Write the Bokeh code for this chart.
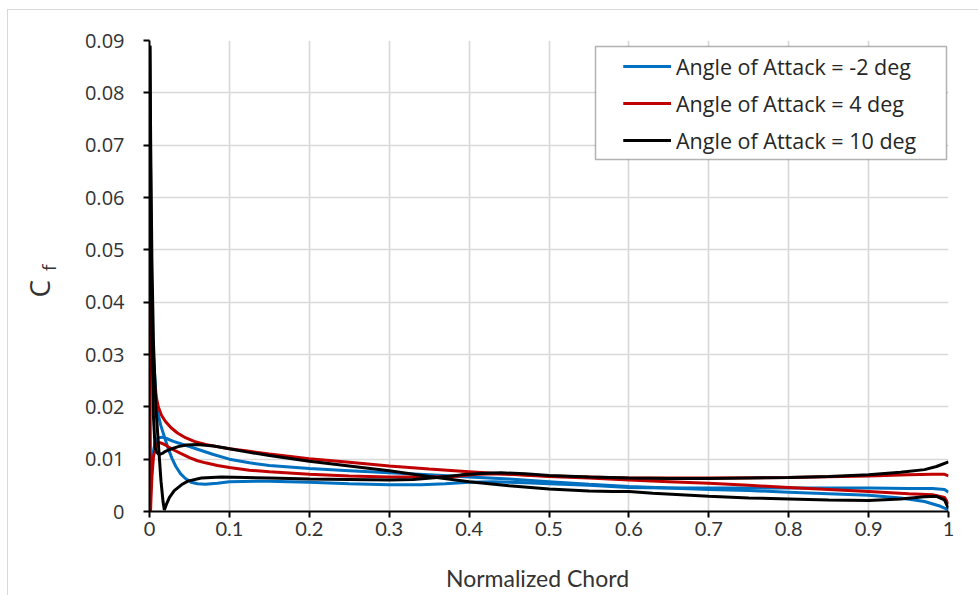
from bokeh.plotting import figure
from bokeh.layouts import row, column
from bokeh.models import Range1d, FixedTicker, Legend, LegendItem, Label, BoxAnnotation
from bokeh.embed import file_html
from bokeh.resources import INLINE

# Skin-friction coefficient along the normalized chord, two surfaces per angle of attack
series_labels = ["Angle of Attack = -2 deg", "Angle of Attack = 4 deg", "Angle of Attack = 10 deg"]
series_colors = ["#0070C0", "#C00000", "#000000"]

# -2 deg, surface A
x_m2_a = [0.0008, 0.002, 0.004, 0.007, 0.011, 0.016, 0.022, 0.03, 0.04, 0.05, 0.06, 0.08, 0.1,
          0.125, 0.15, 0.2, 0.25, 0.3, 0.35, 0.4, 0.45, 0.5, 0.55, 0.6, 0.65, 0.7, 0.75, 0.8,
          0.85, 0.9, 0.94, 0.97, 0.99, 1.0]
cf_m2_a = [0.0, 0.0065, 0.0108, 0.0132, 0.0141, 0.0142, 0.0139, 0.0134, 0.0129, 0.0124, 0.0119,
           0.0109, 0.0100, 0.0093, 0.0088, 0.0082, 0.0078, 0.0074, 0.0070, 0.0066, 0.0062, 0.0057,
           0.0052, 0.0048, 0.0045, 0.0042, 0.0040, 0.0037, 0.0034, 0.0031, 0.0026, 0.0019, 0.0010,
           0.0003]
# -2 deg, surface B
x_m2_b = [0.0005, 0.002, 0.004, 0.006, 0.0094, 0.014, 0.0186, 0.023, 0.028, 0.033, 0.039, 0.045,
          0.052, 0.06, 0.07, 0.085, 0.1, 0.15, 0.2, 0.25, 0.3, 0.34, 0.37, 0.4, 0.43, 0.47, 0.5,
          0.55, 0.6, 0.65, 0.7, 0.8, 0.9, 0.95, 0.98, 0.995, 1.0]
cf_m2_b = [0.043, 0.038, 0.032, 0.027, 0.0195, 0.0165, 0.0143, 0.0122, 0.0102, 0.0086, 0.0072,
           0.0063, 0.0056, 0.0053, 0.0052, 0.0054, 0.0057, 0.0058, 0.0056, 0.0053, 0.0051, 0.0051,
           0.0053, 0.0056, 0.0057, 0.0055, 0.0053, 0.0050, 0.0046, 0.0045, 0.0045, 0.0045, 0.0045,
           0.0044, 0.0044, 0.0042, 0.0037]

# 4 deg, surface A
x_p4_a = [0.0003, 0.0008, 0.0013, 0.002, 0.003, 0.005, 0.008, 0.012, 0.016, 0.02, 0.025, 0.031,
          0.039, 0.05, 0.06, 0.07, 0.085, 0.1, 0.125, 0.15, 0.2, 0.25, 0.3, 0.35, 0.38, 0.41,
          0.44, 0.47, 0.5, 0.55, 0.6, 0.65, 0.7, 0.8, 0.9, 0.95, 0.98, 0.995, 1.0]
cf_p4_a = [0.040, 0.020, 0.0, 0.003, 0.0065, 0.0105, 0.0127, 0.0132, 0.0130, 0.0127, 0.0122,
           0.0117, 0.0111, 0.0103, 0.0097, 0.0093, 0.0088, 0.0084, 0.0079, 0.0076, 0.0071, 0.0068,
           0.0066, 0.0066, 0.0067, 0.0071, 0.0072, 0.0070, 0.0068, 0.0066, 0.0064, 0.0064, 0.0064,
           0.0065, 0.0068, 0.0070, 0.0071, 0.0071, 0.0068]
# 4 deg, surface B
x_p4_b = [0.0003, 0.001, 0.002, 0.004, 0.006, 0.008, 0.011, 0.015, 0.02, 0.027, 0.035, 0.045,
          0.056, 0.07, 0.085, 0.1, 0.125, 0.15, 0.2, 0.25, 0.3, 0.35, 0.4, 0.45, 0.5, 0.55, 0.6,
          0.65, 0.7, 0.75, 0.8, 0.85, 0.9, 0.95, 0.98, 0.995, 1.0]
cf_p4_b = [0.040, 0.037, 0.033, 0.028, 0.0245, 0.0222, 0.0200, 0.0184, 0.0172, 0.0160, 0.0150,
           0.0141, 0.0134, 0.0128, 0.0124, 0.0120, 0.0115, 0.0110, 0.0101, 0.0094, 0.0087, 0.0081,
           0.0076, 0.0071, 0.0067, 0.0064, 0.0060, 0.0057, 0.0054, 0.0050, 0.0046, 0.0042, 0.0038,
           0.0034, 0.0032, 0.0027, 0.0014]

# 10 deg, surface A
x_p10_a = [0.0005, 0.0015, 0.003, 0.005, 0.007, 0.009, 0.012, 0.016, 0.02, 0.028, 0.036, 0.046,
           0.06, 0.08, 0.1, 0.125, 0.15, 0.2, 0.25, 0.3, 0.35, 0.4, 0.45, 0.5, 0.55, 0.58, 0.6,
           0.63, 0.7, 0.75, 0.8, 0.85, 0.9, 0.94, 0.97, 0.985, 0.995, 1.0]
cf_p10_a = [0.089, 0.060, 0.035, 0.018, 0.0122, 0.0113, 0.0109, 0.0111, 0.0115, 0.0120, 0.0124,
            0.0127, 0.0128, 0.0125, 0.0120, 0.0113, 0.0107, 0.0096, 0.0087, 0.0078, 0.0067, 0.0057,
            0.0049, 0.0043, 0.0039, 0.0038, 0.0038, 0.0035, 0.0029, 0.0026, 0.0024, 0.0022, 0.0021,
            0.0024, 0.0028, 0.0029, 0.0022, 0.0006]
# 10 deg, surface B
x_p10_b = [0.0005, 0.0015, 0.003, 0.005, 0.008, 0.010, 0.012, 0.0144, 0.017, 0.0186, 0.021, 0.025,
           0.031, 0.04, 0.048, 0.065, 0.09, 0.12, 0.15, 0.2, 0.25, 0.3, 0.33, 0.36, 0.39, 0.42,
           0.44, 0.47, 0.5, 0.55, 0.6, 0.65, 0.7, 0.75, 0.8, 0.85, 0.9, 0.94, 0.97, 0.985, 1.0]
cf_p10_b = [0.089, 0.070, 0.048, 0.032, 0.020, 0.0154, 0.0110, 0.0058, 0.0018, 0.0003, 0.0013,
            0.0027, 0.0040, 0.0051, 0.0058, 0.0064, 0.0066, 0.0065, 0.0064, 0.0062, 0.0061, 0.0060,
            0.0061, 0.0065, 0.0070, 0.0073, 0.0074, 0.0072, 0.0069, 0.0066, 0.0064, 0.0063, 0.0063,
            0.0064, 0.0065, 0.0067, 0.0070, 0.0075, 0.0080, 0.0086, 0.0095]

x_ticks = [0, 0.1, 0.2, 0.3, 0.4, 0.5, 0.6, 0.7, 0.8, 0.9, 1]
x_tick_labels = ["0", "0.1", "0.2", "0.3", "0.4", "0.5", "0.6", "0.7", "0.8", "0.9", "1"]
y_ticks = [0, 0.01, 0.02, 0.03, 0.04, 0.05, 0.06, 0.07, 0.08, 0.09]
y_tick_labels = ["0", "0.01", "0.02", "0.03", "0.04", "0.05", "0.06", "0.07", "0.08", "0.09"]

curves = [
    [(x_m2_a, cf_m2_a), (x_m2_b, cf_m2_b)],
    [(x_p4_a, cf_p4_a), (x_p4_b, cf_p4_b)],
    [(x_p10_a, cf_p10_a), (x_p10_b, cf_p10_b)],
]

TEXT = "#333333"
TOP_H = 543      # height of the plot row
BOTTOM_H = 43    # height of the strip carrying the x-axis title


def text_strip(width, height):
    """Blank figure whose ranges run in pixels from its top-left corner."""
    s = figure(width=width, height=height, output_backend="svg", toolbar_location=None,
               title=None, x_range=Range1d(0, width), y_range=Range1d(height, 0),
               x_axis_type=None, y_axis_type=None,
               min_border_left=0, min_border_right=0, min_border_top=0, min_border_bottom=0)
    s.outline_line_color = None
    s.border_fill_color = "white"
    s.background_fill_color = "white"
    return s


# y-axis title C_f (a letter plus its subscript)
ylab = text_strip(60, TOP_H)
ylab.add_layout(Label(x=30, y=286, text="C", angle=90, angle_units="deg",
                      text_font="Open Sans", text_font_size="28px", text_color=TEXT,
                      text_align="center", text_baseline="middle"))
ylab.add_layout(Label(x=40, y=262, text="f", angle=90, angle_units="deg",
                      text_font="Open Sans", text_font_size="19px", text_color=TEXT,
                      text_align="center", text_baseline="middle"))

# x-axis title
xlab = text_strip(971, BOTTOM_H)
xlab.add_layout(Label(x=529, y=24, text="Normalized Chord",
                      text_font="Lato", text_font_size="23px", text_color=TEXT,
                      text_align="center", text_baseline="middle"))

fig = figure(width=911, height=TOP_H, output_backend="svg", toolbar_location=None,
             x_range=Range1d(0, 1), y_range=Range1d(0, 0.09),
             min_border_left=81, min_border_right=31, min_border_top=30,
             min_border_bottom=TOP_H - 30 - 471)
fig.outline_line_color = None
fig.background_fill_color = "white"
fig.border_fill_color = "white"

xt = FixedTicker(ticks=x_ticks)
yt = FixedTicker(ticks=y_ticks)
fig.xaxis.ticker = xt
fig.yaxis.ticker = yt
fig.xgrid.ticker = xt
fig.ygrid.ticker = yt
fig.xaxis.major_label_overrides = dict(zip(x_ticks, x_tick_labels))
fig.yaxis.major_label_overrides = dict(zip(y_ticks, y_tick_labels))

for grid in (fig.xgrid, fig.ygrid):
    grid.grid_line_color = "#D9D9D9"
    grid.grid_line_width = 1.7

for ax in (fig.xaxis, fig.yaxis):
    ax.axis_line_color = "black"
    ax.axis_line_width = 2
    ax.major_tick_line_color = "black"
    ax.major_tick_line_width = 2
    ax.major_tick_out = 6
    ax.major_tick_in = 0
    ax.minor_tick_line_color = None
    ax.major_label_text_color = TEXT

fig.yaxis.major_label_text_font = "Open Sans"
fig.yaxis.major_label_text_font_size = "20px"
fig.yaxis.major_label_standoff = 19
fig.xaxis.major_label_text_font = "Lato"
fig.xaxis.major_label_text_font_size = "20px"
fig.xaxis.major_label_standoff = 4

renderers = []
for color, pair in zip(series_colors, curves):
    rs = []
    for xs, ys in pair:
        rs.append(fig.line(xs, ys, line_color=color, line_width=3))
    renderers.append(rs)

# legend frame
fig.add_layout(BoxAnnotation(left=0.5582, right=0.9975, top=0.08885, bottom=0.06726,
                             fill_color="white", fill_alpha=1, line_color="black", line_width=1.5))

legend = Legend(items=[LegendItem(label=lab, renderers=rs) for lab, rs in zip(series_labels, renderers)],
                location="top_right", margin=2, padding=9, spacing=7,
                glyph_width=48, glyph_height=30, label_standoff=5, label_width=261,
                label_text_font="Open Sans", label_text_font_size="21.5px", label_text_color="#262626",
                background_fill_alpha=0, border_line_alpha=0)
fig.add_layout(legend)

p = column(row(ylab, fig, spacing=0), xlab, spacing=0)
p.margin = (9, 0, 0, 7)
p.styles = {"border-left": "1px solid #d9d9d9", "border-top": "1px solid #d9d9d9"}

open("out.html", "w").write(file_html(p, INLINE))
